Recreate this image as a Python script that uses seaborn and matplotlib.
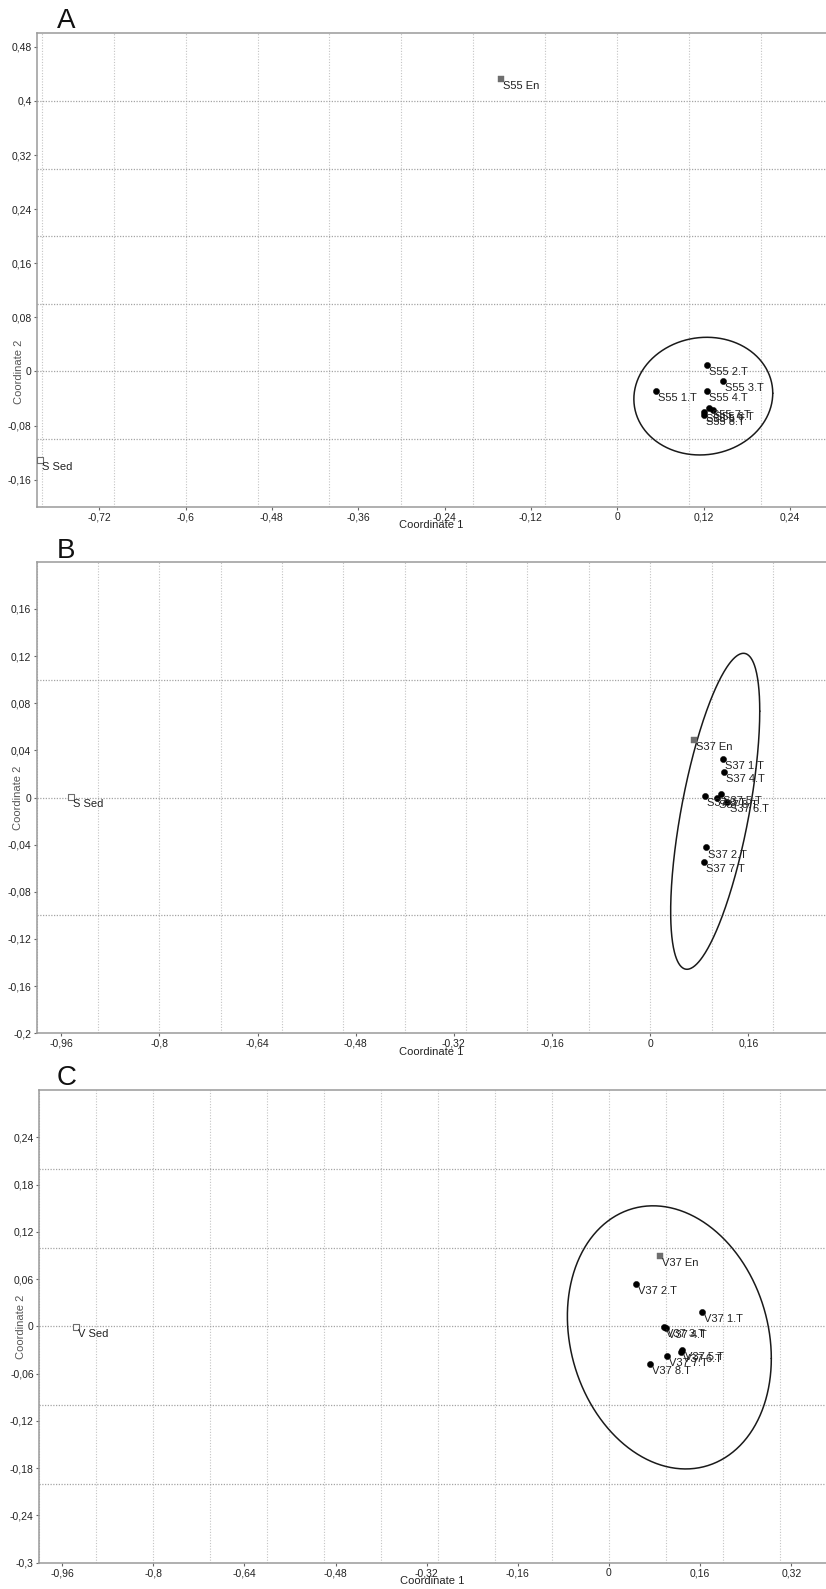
import numpy as np
import pandas as pd
import matplotlib
matplotlib.use("Agg")
import matplotlib.pyplot as plt
import seaborn as sns
from matplotlib.ticker import FixedLocator, FuncFormatter

# ---------------- data ----------------
# Panel A
a_labels = ["S55 En", "S Sed", "S55 1.T", "S55 2.T", "S55 3.T", "S55 4.T",
            "S55 5.T", "S55 6.T", "S55 7.T", "S55 8.T"]
a_kind = ["En", "Sed", "T", "T", "T", "T", "T", "T", "T", "T"]
a_x = [-0.162, -0.802, 0.054, 0.125, 0.147, 0.124, 0.120, 0.133, 0.128, 0.120]
a_y = [0.432, -0.131, -0.0295, 0.009, -0.0135, -0.0295, -0.060, -0.0565, -0.0535, -0.065]
a_ell = [0.1195, -0.0365, 0.0965, 0.087, 0.05]   # cx, cy, half-width, half-height, r
a_xticks = [-0.72, -0.6, -0.48, -0.36, -0.24, -0.12, 0, 0.12, 0.24]
a_yticks = [-0.16, -0.08, 0, 0.08, 0.16, 0.24, 0.32, 0.4, 0.48]
a_xlim = [-0.806, 0.29]
a_ylim = [-0.2, 0.5]

# Panel B
b_labels = ["S37 En", "S Sed", "S37 1.T", "S37 2.T", "S37 3.T", "S37 4.T",
            "S37 5.T", "S37 6.T", "S37 7.T", "S37 8.T"]
b_kind = ["En", "Sed", "T", "T", "T", "T", "T", "T", "T", "T"]
b_x = [0.072, -0.944, 0.118, 0.091, 0.0886, 0.121, 0.115, 0.126, 0.087, 0.1087]
b_y = [0.049, 0.0005, 0.033, -0.0424, 0.0014, 0.022, 0.0028, -0.0037, -0.0545, -0.0003]
b_ell = [0.106, -0.0117, 0.0726, 0.134, 0.634]
b_xticks = [-0.96, -0.8, -0.64, -0.48, -0.32, -0.16, 0, 0.16]
b_yticks = [-0.2, -0.16, -0.12, -0.08, -0.04, 0, 0.04, 0.08, 0.12, 0.16]
b_xlim = [-1.0, 0.2866]
b_ylim = [-0.2, 0.2]

# Panel C
c_labels = ["V37 En", "V Sed", "V37 1.T", "V37 2.T", "V37 3.T", "V37 4.T",
            "V37 5.T", "V37 6.T", "V37 7.T", "V37 8.T"]
c_kind = ["En", "Sed", "T", "T", "T", "T", "T", "T", "T", "T"]
c_x = [0.0897, -0.935, 0.164, 0.0466, 0.096, 0.1008, 0.129, 0.127, 0.1025, 0.0722]
c_y = [0.0888, -0.001, 0.0182, 0.0533, -0.0008, -0.0025, -0.0296, -0.033, -0.0372, -0.0478]
c_ell = [0.106, -0.014, 0.179, 0.167, -0.16]
c_xticks = [-0.96, -0.8, -0.64, -0.48, -0.32, -0.16, 0, 0.16, 0.32]
c_yticks = [-0.3, -0.24, -0.18, -0.12, -0.06, 0, 0.06, 0.12, 0.18, 0.24]
c_xlim = [-1.0, 0.381]
c_ylim = [-0.3, 0.3]

panel_letters = ["A", "B", "C"]
grid_step = 0.1

# ---------------- style ----------------
sns.set_style("white")
plt.rcParams["font.family"] = ["Liberation Sans", "DejaVu Sans"]

FIG_W, FIG_H = 826, 1589
fig = plt.figure(figsize=(FIG_W / 100, FIG_H / 100), dpi=100)


def rect(l, t, r, b):
    return [l / FIG_W, 1 - b / FIG_H, (r - l) / FIG_W, (b - t) / FIG_H]


boxes = [rect(37.3, 33.3, 826, 506.7),
         rect(36.7, 561.7, 826, 1033.3),
         rect(39.3, 1090, 826, 1562.7)]
letter_pos = [(57, 28), (57, 558), (57, 1085)]

palette = {"T": "#000000", "En": "#6e6e6e", "Sed": "#ffffff"}
markers = {"T": "o", "En": "s", "Sed": "s"}
sizes = {"T": 20, "En": 18, "Sed": 24}


def fmt(v, pos=None):
    s = "%g" % round(v, 2)
    return s.replace(".", ",")


def ellipse_curve(cx, cy, w, h, r, n=400):
    cov = np.array([[w * w, r * w * h], [r * w * h, h * h]])
    L = np.linalg.cholesky(cov)
    t = np.linspace(0, 2 * np.pi, n)
    pts = L @ np.vstack([np.cos(t), np.sin(t)])
    return cx + pts[0], cy + pts[1]


panels = [
    (a_labels, a_kind, a_x, a_y, a_ell, a_xticks, a_yticks, a_xlim, a_ylim),
    (b_labels, b_kind, b_x, b_y, b_ell, b_xticks, b_yticks, b_xlim, b_ylim),
    (c_labels, c_kind, c_x, c_y, c_ell, c_xticks, c_yticks, c_xlim, c_ylim),
]

for i, (labels, kind, xs, ys, ell, xt, yt, xl, yl) in enumerate(panels):
    ax = fig.add_axes(boxes[i])
    df = pd.DataFrame({"x": xs, "y": ys, "label": labels, "kind": kind})
    ax.grid(False)

    # dotted grid at multiples of 0.1
    for k in range(int(np.ceil(xl[0] / grid_step)), int(np.floor(xl[1] / grid_step)) + 1):
        ax.axvline(k * grid_step, color="#c4c4c4", linestyle=(0, (1, 1.5)),
                   linewidth=0.8, zorder=0)
    for k in range(int(np.ceil(yl[0] / grid_step - 1e-9)), int(np.floor(yl[1] / grid_step + 1e-9)) + 1):
        if abs(k * grid_step - yl[0]) < 1e-6 or abs(k * grid_step - yl[1]) < 1e-6:
            continue
        ax.axhline(k * grid_step, color="#a4a4a4", linestyle=(0, (1, 1.2)),
                   linewidth=0.9, zorder=0)

    # ellipse
    ex, ey = ellipse_curve(*ell)
    sns.lineplot(x=ex, y=ey, sort=False, estimator=None, color="#1a1a1a",
                 linewidth=1.1, ax=ax, legend=False)

    for k in ["Sed", "En", "T"]:
        sub = df[df["kind"] == k]
        sns.scatterplot(data=sub, x="x", y="y", ax=ax, marker=markers[k],
                        s=sizes[k], color=palette[k],
                        edgecolor="#6e6e6e" if k != "T" else "#000000",
                        linewidth=0.8 if k == "Sed" else 0.3, legend=False, zorder=3)

    for _, row in df.iterrows():
        ax.annotate(row["label"], (row["x"], row["y"]), xytext=(1.5, -1.5),
                    textcoords="offset points", ha="left", va="top",
                    fontsize=8, color="#222222", zorder=4)

    ax.set_xlim(xl)
    ax.set_ylim(yl)
    ax.xaxis.set_major_locator(FixedLocator(xt))
    ax.yaxis.set_major_locator(FixedLocator(yt))
    ax.xaxis.set_major_formatter(FuncFormatter(fmt))
    ax.yaxis.set_major_formatter(FuncFormatter(fmt))
    ax.tick_params(which="major", direction="out", length=2.5, width=0.8,
                   color="#666666", labelsize=7.5, labelcolor="#222222", pad=1.5,
                   bottom=True, left=True)
    ax.minorticks_off()

    for side in ["left", "bottom", "top"]:
        ax.spines[side].set_color("#9a9a9a")
        ax.spines[side].set_linewidth(1.1)
        ax.spines[side].set_visible(True)
    ax.spines["right"].set_visible(False)

    ax.set_xlabel("Coordinate 1", fontsize=8, color="#222222")
    ax.set_ylabel("Coordinate 2", fontsize=8, color="#555555")
    h = boxes[i][3] * FIG_H
    w = boxes[i][2] * FIG_W
    ax.xaxis.set_label_coords(0.5, -13.5 / h)
    y0_frac = (0 - yl[0]) / (yl[1] - yl[0])
    ax.yaxis.set_label_coords(-13.5 / w, y0_frac)

    lx, ly = letter_pos[i]
    fig.text(lx / FIG_W, 1 - ly / FIG_H, panel_letters[i], fontsize=20,
             va="baseline", ha="left", color="#111111")

fig.savefig("out.png", dpi=100)
